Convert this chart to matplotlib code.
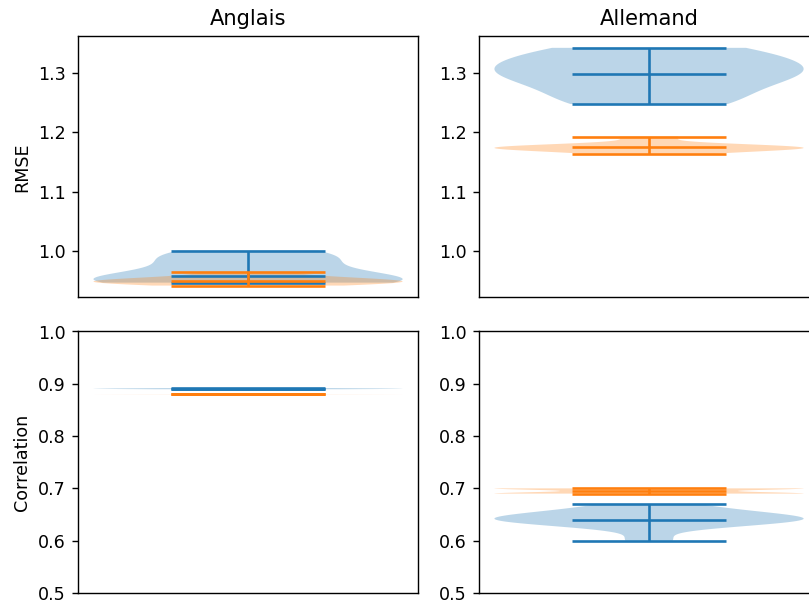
import matplotlib
matplotlib.use("Agg")
import matplotlib.pyplot as plt

# RMSE et corrélation sur plusieurs essais, deux modèles par langue
langues = ["Anglais", "Allemand"]
metriques = ["RMSE", "Correlation"]

rmse_en_1 = [0.946, 0.947, 0.949, 0.952, 0.962, 0.980, 0.990, 1.000]
rmse_en_2 = [0.941, 0.944, 0.946, 0.948, 0.950, 0.952, 0.956, 0.964]
rmse_de_1 = [1.248, 1.255, 1.280, 1.295, 1.299, 1.310, 1.320, 1.335, 1.343]
rmse_de_2 = [1.164, 1.170, 1.172, 1.174, 1.175, 1.176, 1.178, 1.193]

corr_en_1 = [0.8895, 0.8902, 0.8906, 0.8910, 0.8918]
corr_en_2 = [0.8797, 0.8798, 0.8798, 0.8799, 0.8800]
corr_de_1 = [0.600, 0.628, 0.634, 0.638, 0.640, 0.640, 0.645, 0.648, 0.652, 0.660, 0.670]
corr_de_2 = [0.69, 0.69, 0.69, 0.69, 0.69, 0.69, 0.70, 0.70, 0.70, 0.70, 0.70, 0.70]

donnees = [[(rmse_en_1, rmse_en_2), (rmse_de_1, rmse_de_2)],
           [(corr_en_1, corr_en_2), (corr_de_1, corr_de_2)]]

fig, axes = plt.subplots(2, 2, sharey="row", figsize=(6.421, 4.81), dpi=126)
fig.subplots_adjust(left=0.0964, right=1.0124, bottom=0.0215, top=0.9406,
                    wspace=0.179, hspace=0.13)

for i in range(2):
    for j in range(2):
        ax = axes[i][j]
        a, b = donnees[i][j]
        ax.violinplot(a, showmedians=True)
        ax.violinplot(b, showmedians=True)
        ax.set_xticks([])
        ax.tick_params(labelleft=True)
        if i == 0:
            ax.set_title(langues[j])
        if j == 0:
            ax.set_ylabel(metriques[i])

axes[1][0].set_ylim(0.5, 1.0)

plt.savefig("out.png")
